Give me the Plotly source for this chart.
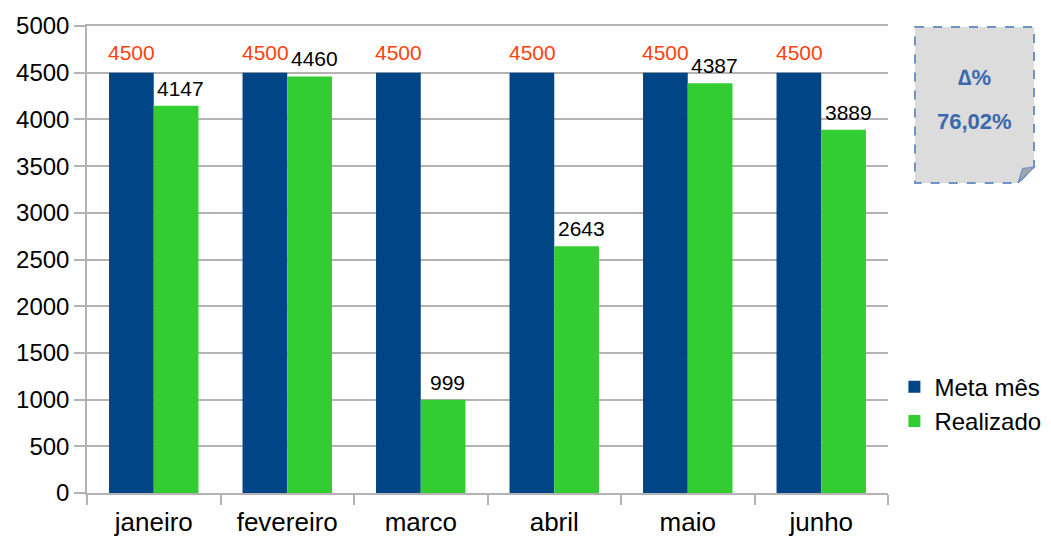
import plotly.graph_objects as go

categories = ["janeiro", "fevereiro", "marco", "abril", "maio", "junho"]
meta = [4500, 4500, 4500, 4500, 4500, 4500]
realizado = [4147, 4460, 999, 2643, 4387, 3889]
delta_title = "∆%"
delta_value = "76,02%"

FONT = "Liberation Sans, Arial, sans-serif"
GRID = "#b3b3b3"

fig = go.Figure()
fig.add_trace(go.Bar(x=categories, y=meta, name="Meta mês", marker_color="#004586",
                     marker_line_width=0))
fig.add_trace(go.Bar(x=categories, y=realizado, name="Realizado", marker_color="#33cc33",
                     marker_line_width=0))

# value labels above bars
for c, v in zip(categories, meta):
    fig.add_annotation(x=c, y=v, xref="x", yref="y", text=str(v), showarrow=False,
                       xshift=-22, yshift=7, yanchor="bottom", xanchor="center",
                       font=dict(size=21, color="#ff420e", family=FONT))
for c, v in zip(categories, realizado):
    fig.add_annotation(x=c, y=v, xref="x", yref="y", text=str(v), showarrow=False,
                       xshift=27, yshift=4, yanchor="bottom", xanchor="center",
                       font=dict(size=21, color="#000000", family=FONT))

# note box (paper coords)
L, R, T, B = 1.0337, 1.1823, 0.998, 0.664
fx, fy = 0.020, 0.034
path = f"M {L},{T} L {R},{T} L {R},{B+fy} L {R-fx},{B} L {L},{B} Z"
fig.add_shape(type="path", path=path, xref="paper", yref="paper",
              fillcolor="#dcdcdc", line=dict(color="#6f93c4", width=2, dash="dash"))
fig.add_shape(type="path", xref="paper", yref="paper",
              path=f"M {R},{B+fy} L {R-fx},{B} L {R-fx*0.7},{B+fy*0.9} Z",
              fillcolor="#a8a8a8", line=dict(color="#6f93c4", width=1.5))
cx = (L + R) / 2
fig.add_annotation(x=cx, y=0.889, xref="paper", yref="paper", text=f"<b>{delta_title}</b>",
                   showarrow=False, xanchor="center", yanchor="middle",
                   font=dict(size=22, color="#3a69ad", family=FONT))
fig.add_annotation(x=cx, y=0.795, xref="paper", yref="paper", text=f"<b>{delta_value}</b>",
                   showarrow=False, xanchor="center", yanchor="middle",
                   font=dict(size=22, color="#3a69ad", family=FONT))

fig.update_layout(
    width=1043, height=529,
    margin=dict(l=79, r=163, t=18, b=44, autoexpand=False),
    paper_bgcolor="white", plot_bgcolor="white",
    barmode="group", bargap=0.33, bargroupgap=0,
    font=dict(family=FONT, color="black", size=24),
    legend=dict(x=1.008, y=0.19, xanchor="left", yanchor="middle",
                font=dict(size=24, family=FONT), tracegroupgap=0, itemwidth=30),
    showlegend=True,
)
fig.update_xaxes(
    type="category", showline=True, linecolor=GRID, linewidth=1.5, mirror=True,
    ticks="outside", tickson="boundaries", ticklen=10, tickcolor=GRID, tickwidth=1.5,
    showgrid=False, tickfont=dict(size=26, family=FONT), ticklabelstandoff=5,
)
fig.update_yaxes(
    range=[0, 5000], dtick=500, showgrid=True, gridcolor=GRID, gridwidth=1.5,
    showline=True, linecolor=GRID, linewidth=1.5,
    ticks="outside", ticklen=11, tickcolor=GRID, tickwidth=1.5,
    tickfont=dict(size=24, family=FONT), zeroline=False,
)

fig.write_html("out.html")
